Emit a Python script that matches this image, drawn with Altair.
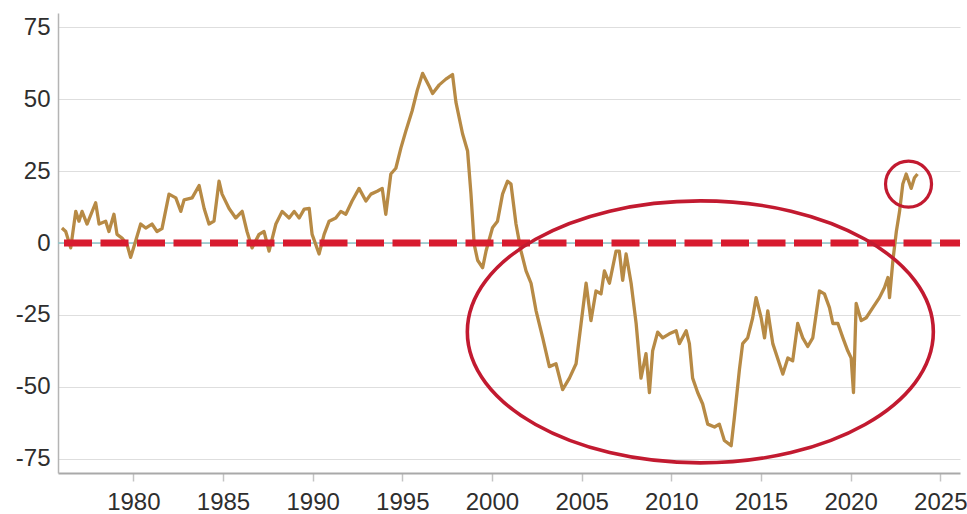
import altair as alt
import pandas as pd

# Series: decimal year and index value
years = [
    1976.02, 1976.23, 1976.51, 1976.79, 1976.97, 1977.14, 1977.42, 1977.90, 1978.09, 1978.46,
    1978.64, 1978.92, 1979.09, 1979.37, 1979.65, 1979.85, 1980.13, 1980.41, 1980.69, 1981.04,
    1981.32, 1981.60, 1981.99, 1982.37, 1982.65, 1982.83, 1983.28, 1983.67, 1983.95, 1984.22,
    1984.50, 1984.78, 1984.95, 1985.34, 1985.71, 1986.07, 1986.34, 1986.62, 1987.01, 1987.29,
    1987.57, 1987.95, 1988.30, 1988.69, 1988.97, 1989.25, 1989.53, 1989.81, 1989.97, 1990.36,
    1990.64, 1990.92, 1991.29, 1991.57, 1991.85, 1992.20, 1992.59, 1992.97, 1993.25, 1993.60,
    1993.88, 1994.08, 1994.36, 1994.64, 1994.92, 1995.20, 1995.55, 1995.83, 1996.13, 1996.50,
    1996.69, 1997.06, 1997.43, 1997.80, 1997.99, 1998.36, 1998.64, 1998.83, 1999.01, 1999.20,
    1999.48, 1999.67, 2000.03, 2000.31, 2000.59, 2000.87, 2001.06, 2001.34, 2001.62, 2001.90,
    2002.18, 2002.46, 2002.83, 2003.20, 2003.57, 2003.94, 2004.32, 2004.69, 2004.97, 2005.25,
    2005.52, 2005.80, 2006.08, 2006.27, 2006.55, 2006.92, 2007.10, 2007.29, 2007.48, 2007.76,
    2008.04, 2008.31, 2008.59, 2008.78, 2008.96, 2009.24, 2009.52, 2009.89, 2010.27, 2010.45,
    2010.83, 2011.01, 2011.19, 2011.47, 2011.75, 2012.03, 2012.41, 2012.68, 2012.96, 2013.34,
    2013.52, 2013.80, 2013.98, 2014.26, 2014.54, 2014.73, 2015.01, 2015.20, 2015.38, 2015.66,
    2016.03, 2016.22, 2016.50, 2016.77, 2017.05, 2017.33, 2017.61, 2017.89, 2018.26, 2018.54,
    2018.82, 2019.01, 2019.29, 2019.57, 2019.84, 2020.03, 2020.16, 2020.31, 2020.59, 2020.87,
    2021.24, 2021.61, 2021.89, 2022.08, 2022.17, 2022.36, 2022.55, 2022.73, 2022.91, 2023.10,
    2023.38, 2023.56, 2023.73,
]
values = [
    5.2, 4.0, -1.7, 11.0, 7.6, 11.0, 6.6, 14.0, 6.6, 7.6,
    4.0, 10.0, 3.0, 1.7, -0.5, -5.0, 0.7, 6.6, 5.2, 6.6,
    4.0, 5.0, 17.0, 15.7, 11.0, 15.0, 15.7, 20.0, 12.0, 6.6,
    7.6, 21.5, 17.0, 12.0, 8.7, 11.0, 4.0, -1.7, 3.0, 4.0,
    -2.8, 6.6, 11.0, 8.7, 11.0, 8.7, 11.8, 12.0, 3.0, -3.8,
    3.0, 7.6, 8.7, 11.0, 10.0, 14.6, 19.0, 14.6, 17.0, 18.0,
    19.0, 10.0, 24.0, 26.0, 33.0, 39.0, 46.0, 53.0, 59.0, 54.5,
    52.0, 55.0, 57.0, 58.6, 49.0, 38.0, 32.0, 17.0, -0.5, -6.0,
    -8.6, -2.8, 5.3, 7.6, 17.0, 21.5, 20.5, 6.6, -2.8, -9.7,
    -14.0, -23.6, -33.0, -43.0, -42.0, -51.0, -47.0, -42.0, -28.0, -14.0,
    -27.0, -16.7, -17.7, -9.7, -14.0, -2.8, -2.8, -13.0, -3.8, -14.0,
    -28.0, -47.0, -38.5, -52.0, -37.5, -31.0, -33.0, -31.6, -30.5, -35.0,
    -30.5, -35.0, -47.0, -52.0, -56.0, -63.0, -64.0, -63.0, -68.7, -70.5,
    -60.6, -44.0, -35.0, -33.0, -26.0, -19.0, -26.0, -33.0, -23.6, -35.0,
    -42.0, -45.6, -40.0, -41.0, -28.0, -33.0, -36.0, -33.0, -16.7, -17.7,
    -22.5, -28.0, -28.0, -33.0, -37.5, -40.0, -52.0, -21.0, -27.0, -26.0,
    -22.5, -19.0, -15.5, -12.0, -19.0, -6.0, 4.0, 11.0, 20.5, 24.0,
    19.0, 22.7, 24.0,
]

x_ticks = [1980, 1985, 1990, 1995, 2000, 2005, 2010, 2015, 2020, 2025]
y_ticks = [-75, -50, -25, 0, 25, 50, 75]

# Highlight annotations: wide ellipse over the 2002-2022 period and a ring on the latest reading
ellipse_center = {"year": [2011.62], "value": [-30.9]}
ring_center = {"year": [2023.23], "value": [20.5]}

FONT = "Liberation Sans"
LINE_COLOR = "#B78A45"
RED = "#C21A30"

df = pd.DataFrame({"year": years, "value": values})

x_scale = alt.Scale(domain=[1975.8, 2026.1], nice=False, zero=False)
y_scale = alt.Scale(domain=[-80, 80], nice=False, zero=False)

x_enc = alt.X(
    "year:Q",
    scale=x_scale,
    title=None,
    axis=alt.Axis(
        values=x_ticks,
        format="d",
        grid=False,
        domainColor="#a9a9a9",
        domainWidth=2,
        ticks=True,
        tickColor="#c4c4c4",
        tickSize=8,
        tickWidth=1.5,
        labelFont=FONT,
        labelFontSize=24,
        labelColor="#2e2e2e",
        labelPadding=9,
        labelFlush=False,
    ),
)
y_enc = alt.Y(
    "value:Q",
    scale=y_scale,
    title=None,
    axis=alt.Axis(
        values=y_ticks,
        grid=True,
        gridColor="#dedede",
        gridWidth=1,
        domainColor="#b4b4b4",
        domainWidth=1.5,
        ticks=False,
        labelFont=FONT,
        labelFontSize=24,
        labelColor="#2e2e2e",
        labelPadding=8,
        labelExpr="'' + datum.value",
    ),
)

series = alt.Chart(df).mark_line(
    color=LINE_COLOR, strokeWidth=3.3, strokeJoin="round"
).encode(x=x_enc, y=y_enc)

zero_df = pd.DataFrame({"value": [0]})
zero_base = alt.Chart(zero_df).mark_rule(color="#8cc4c8", strokeWidth=1.5).encode(
    y=alt.Y("value:Q", scale=y_scale)
)
zero_dash = alt.Chart(zero_df).mark_rule(
    color="#D81B2F", strokeWidth=7, strokeDash=[28, 8.5], strokeDashOffset=8
).encode(y=alt.Y("value:Q", scale=y_scale))

k = 0.5622
c = 0.5523
ellipse_path = (
    f"M -1 0 C -1 {-c*k:.4f} {-c:.4f} {-k:.4f} 0 {-k:.4f} "
    f"C {c:.4f} {-k:.4f} 1 {-c*k:.4f} 1 0 "
    f"C 1 {c*k:.4f} {c:.4f} {k:.4f} 0 {k:.4f} "
    f"C {-c:.4f} {k:.4f} -1 {c*k:.4f} -1 0 Z"
)

ellipse = alt.Chart(pd.DataFrame(ellipse_center)).mark_point(
    shape=ellipse_path, size=466 * 466, filled=False, color=RED, strokeWidth=3.6, opacity=1
).encode(x=alt.X("year:Q", scale=x_scale), y=alt.Y("value:Q", scale=y_scale))

ring = alt.Chart(pd.DataFrame(ring_center)).mark_point(
    shape="circle", size=46 * 46, filled=False, color=RED, strokeWidth=3.2, opacity=1
).encode(x=alt.X("year:Q", scale=x_scale), y=alt.Y("value:Q", scale=y_scale))

chart = (
    alt.layer(zero_base, series, zero_dash, ellipse, ring)
    .properties(
        width=902,
        height=460,
        autosize=alt.AutoSizeParams(type="none"),
        padding={"left": 58, "top": 13, "right": 7, "bottom": 41},
        background="white",
    )
    .configure_view(stroke=None)
)

chart.save("out.html", embed_options={"renderer": "svg", "actions": False})
